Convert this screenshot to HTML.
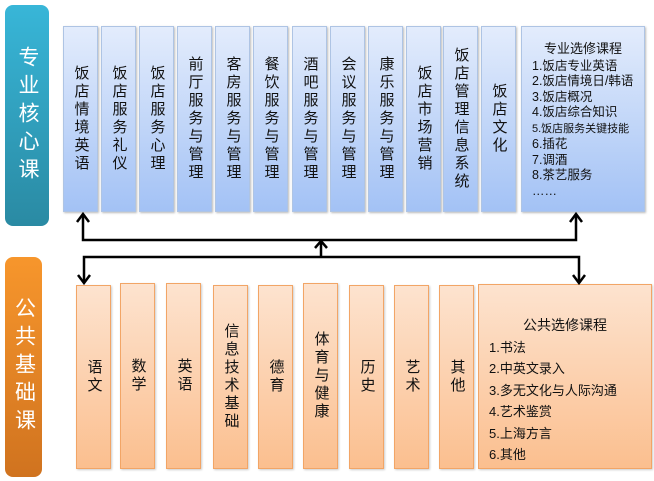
<!DOCTYPE html>
<html><head><meta charset="utf-8"><style>
body{margin:0;width:654px;height:481px;background:#fff;position:relative;overflow:hidden;font-family:"Liberation Sans","Noto Sans CJK SC",sans-serif;}
.b{position:absolute;box-sizing:border-box;display:flex;align-items:center;justify-content:center;font-size:15px;color:#111;}
.b span{writing-mode:vertical-rl;text-orientation:upright;white-space:nowrap;letter-spacing:3px;line-height:20px;}
.blue{background:linear-gradient(#e3ecfc,#a3c2f5);border:1px solid #aec4e4;box-shadow:1px 1px 2px #bbb;}
.or{background:linear-gradient(#fde3cf,#fbbf8f);border:1px solid #f2a566;box-shadow:1px 1px 2px #ccc;}
.lab{position:absolute;border-radius:8px;color:#fff;font-size:21px;display:flex;align-items:center;justify-content:center;}
.lab span{writing-mode:vertical-rl;text-orientation:upright;white-space:nowrap;letter-spacing:7px;}
.el{position:absolute;box-sizing:border-box;font-size:12.5px;line-height:15.5px;color:#111;white-space:nowrap;}
</style></head><body>
<div class="lab" style="left:5px;top:5px;width:44px;height:221px;background:linear-gradient(#38b6d8,#2a8aa3);"><span>专业核心课</span></div>
<div class="lab" style="left:5px;top:257px;width:37px;height:220px;background:linear-gradient(#f7962c,#d0731f);"><span>公共基础课</span></div>

<div class="b blue" style="left:63px;top:26px;width:35px;height:186px;"><span>饭店情境英语</span></div>
<div class="b blue" style="left:101px;top:26px;width:35px;height:186px;"><span>饭店服务礼仪</span></div>
<div class="b blue" style="left:139px;top:26px;width:35px;height:186px;"><span>饭店服务心理</span></div>
<div class="b blue" style="left:177px;top:26px;width:35px;height:186px;"><span>前厅服务与管理</span></div>
<div class="b blue" style="left:215px;top:26px;width:35px;height:186px;"><span>客房服务与管理</span></div>
<div class="b blue" style="left:253px;top:26px;width:35px;height:186px;"><span>餐饮服务与管理</span></div>
<div class="b blue" style="left:292px;top:26px;width:35px;height:186px;"><span>酒吧服务与管理</span></div>
<div class="b blue" style="left:330px;top:26px;width:35px;height:186px;"><span>会议服务与管理</span></div>
<div class="b blue" style="left:368px;top:26px;width:35px;height:186px;"><span>康乐服务与管理</span></div>
<div class="b blue" style="left:406px;top:26px;width:35px;height:186px;"><span>饭店市场营销</span></div>
<div class="b blue" style="left:443px;top:26px;width:35px;height:186px;"><span>饭店管理信息系统</span></div>
<div class="b blue" style="left:481px;top:26px;width:35px;height:186px;"><span>饭店文化</span></div>
<div class="el blue" style="left:521px;top:26px;width:124px;height:186px;padding:14px 0 0 10px;">
<div style="text-align:center;margin-left:-10px;font-size:13px;margin-bottom:2px;">专业选修课程</div>
1.饭店专业英语<br>2.饭店情境日/韩语<br>3.饭店概况<br>4.饭店综合知识<br><span style="font-size:11px">5.饭店服务关键技能</span><br>6.插花<br>7.调酒<br>8.茶艺服务<br>……</div>

<div class="b or" style="left:76px;top:285px;width:35px;height:184px;"><span>语文</span></div>
<div class="b or" style="left:120px;top:283px;width:35px;height:186px;"><span>数学</span></div>
<div class="b or" style="left:166px;top:283px;width:35px;height:186px;"><span>英语</span></div>
<div class="b or" style="left:213px;top:285px;width:35px;height:184px;"><span>信息技术基础</span></div>
<div class="b or" style="left:258px;top:285px;width:35px;height:184px;"><span>德育</span></div>
<div class="b or" style="left:303px;top:283px;width:35px;height:186px;"><span>体育与健康</span></div>
<div class="b or" style="left:349px;top:285px;width:35px;height:184px;"><span>历史</span></div>
<div class="b or" style="left:394px;top:285px;width:35px;height:184px;"><span>艺术</span></div>
<div class="b or" style="left:439px;top:285px;width:35px;height:184px;"><span>其他</span></div>
<div class="el or" style="left:478px;top:284px;width:174px;height:185px;padding:30px 0 0 10px;font-size:13px;line-height:21.5px;">
<div style="text-align:center;margin-left:-10px;font-size:14px;">公共选修课程</div>
1.书法<br>2.中英文录入<br>3.多无文化与人际沟通<br>4.艺术鉴赏<br>5.上海方言<br>6.其他</div>

<svg width="654" height="481" style="position:absolute;left:0;top:0" fill="none" stroke="#000" stroke-width="2.5">
<path d="M83 214V240H576V214"/>
<path d="M77 222L83 214L89 222M570 222L576 214L582 222"/>
<path d="M84 283V257H579V283"/>
<path d="M78 275L84 283L90 275M573 275L579 283L585 275"/>
<path d="M321 257V241M315 248L321 241L327 248"/>
</svg>
</body></html>
